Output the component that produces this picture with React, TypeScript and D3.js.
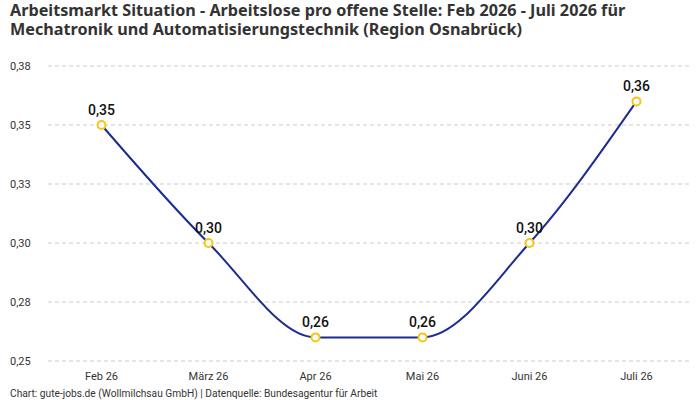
import React from "react";
import * as d3 from "d3";

const categories = ["Feb 26", "März 26", "Apr 26", "Mai 26", "Juni 26", "Juli 26"];
const values = [0.35, 0.30, 0.26, 0.26, 0.30, 0.36];
const yTicks = [0.25, 0.275, 0.30, 0.325, 0.35, 0.375];
const titleLines = [
  "Arbeitsmarkt Situation - Arbeitslose pro offene Stelle: Feb 2026 - Juli 2026 für",
  "Mechatronik und Automatisierungstechnik (Region Osnabrück)",
];
const footer = "Chart: gute-jobs.de (Wollmilchsau GmbH) | Datenquelle: Bundesagentur für Arbeit";

const W = 700;
const H = 400;
const font = "Roboto, 'Noto Sans', sans-serif";
const titleFont = "'Noto Sans', 'Open Sans', sans-serif";
const fmt = (v: number) => v.toFixed(2).replace(".", ",");

export default function App() {
  const x = d3.scaleBand<string>().domain(categories).range([48, 690]);
  const y = d3.scaleLinear().domain([0.25, 0.375]).range([361, 66]);
  const pts: [number, number][] = values.map((v, i) => [
    (x(categories[i]) as number) + x.bandwidth() / 2,
    y(v),
  ]);
  const line = d3.line().curve(d3.curveMonotoneX)(pts) || "";
  return (
    <svg width={W} height={H} style={{ position: "absolute", left: 0, top: 0, background: "#fff" }} fontFamily={font}>
      <rect width={W} height={H} fill="#fff" />
      <text x={10} y={16} fontSize={16.2} fontWeight={700} fill="#333" fontFamily={titleFont}>
        {titleLines.map((t, i) => (
          <tspan key={i} x={10} dy={i === 0 ? 0 : 18.5}>
            {t}
          </tspan>
        ))}
      </text>
      {yTicks.map((t) => (
        <g key={t}>
          <line x1={48} x2={690} y1={y(t)} y2={y(t)} stroke="#ccc" strokeDasharray="4,3" />
          <text x={10} y={y(t)} dy="0.35em" fontSize={11} fill="#333">
            {fmt(t)}
          </text>
        </g>
      ))}
      {categories.map((c) => (
        <text key={c} x={(x(c) as number) + x.bandwidth() / 2} y={380} textAnchor="middle" fontSize={11} fill="#333">
          {c}
        </text>
      ))}
      <path d={line} fill="none" stroke="#1c2d91" strokeWidth={2} />
      {pts.map((p, i) => (
        <g key={i}>
          <circle cx={p[0]} cy={p[1]} r={4} fill="#fff" stroke="#f5c518" strokeWidth={2} />
          <text x={p[0]} y={p[1] - 10} textAnchor="middle" fontSize={14} fontWeight={500} fill="#111">
            {fmt(values[i])}
          </text>
        </g>
      ))}
      <text x={10} y={397} fontSize={10.2} fill="#333">
        {footer}
      </text>
    </svg>
  );
}
